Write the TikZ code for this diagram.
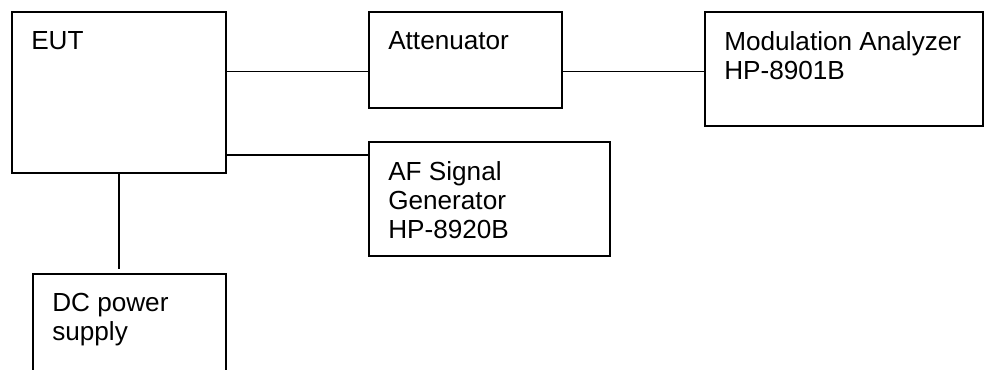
\documentclass[tikz,border=0pt]{standalone}
\usepackage{fontspec}
\setmainfont{Liberation Sans}
\usepackage{tikz}
\usetikzlibrary{calc, positioning}

\tikzset{
  unit/.style={draw, line width=1.3pt, inner sep=0pt, outer sep=0pt, anchor=north west},
  lbl/.style={anchor=north west, align=left, inner sep=0pt, font=\fontsize{18.6}{20.8}\selectfont},
  wire/.style={line width=1.3pt}
}

\begin{document}
\begin{tikzpicture}
    \useasboundingbox (0,0) rectangle (24.6,-9.25);
    % boxes
    \node[unit, minimum width=5.35cm, minimum height=4.025cm] (eut) at (0.3, -0.3) {};
    \node[unit, minimum width=4.825cm, minimum height=2.4cm] (att) at (9.225, -0.3) {};
    \node[unit, minimum width=6.95cm, minimum height=2.85cm] (mod) at (17.625, -0.3) {};
    \node[unit, minimum width=6.025cm, minimum height=2.85cm] (afgen) at (9.225, -3.55) {};
    \node[unit, minimum width=4.825cm, minimum height=3cm] (dc) at (0.825, -6.85) {};
    % texts
    \node[lbl] (eut-t) at ([shift={(0.475,-0.47)}]eut.north west) {EUT};
    \node[lbl] (att-t) at ([shift={(0.475,-0.47)}]att.north west) {Attenuator};
    \node[lbl] (mod-t) at ([shift={(0.475,-0.47)}]mod.north west) {Modulation Analyzer\\HP-8901B};
    \node[lbl] (afgen-t) at ([shift={(0.475,-0.47)}]afgen.north west) {AF Signal\\Generator\\HP-8920B};
    \node[lbl] (dc-t) at ([shift={(0.475,-0.47)}]dc.north west) {DC power\\supply};
    % wires
    \draw[wire]
    ([yshift=-1.4875cm]att.north west) -- ([yshift=-1.4875cm]att.north west -| eut.east)
    ([yshift=-1.4875cm]mod.north west) -- ([yshift=-1.4875cm]mod.north west -| att.east)
    ([yshift=-0.325cm]afgen.north west) -- ([yshift=-0.325cm]afgen.north west -| eut.east);
    \draw[wire, shorten >=1.25mm] (eut.south) -- (eut.south |- dc.north);
\end{tikzpicture}
\end{document}
